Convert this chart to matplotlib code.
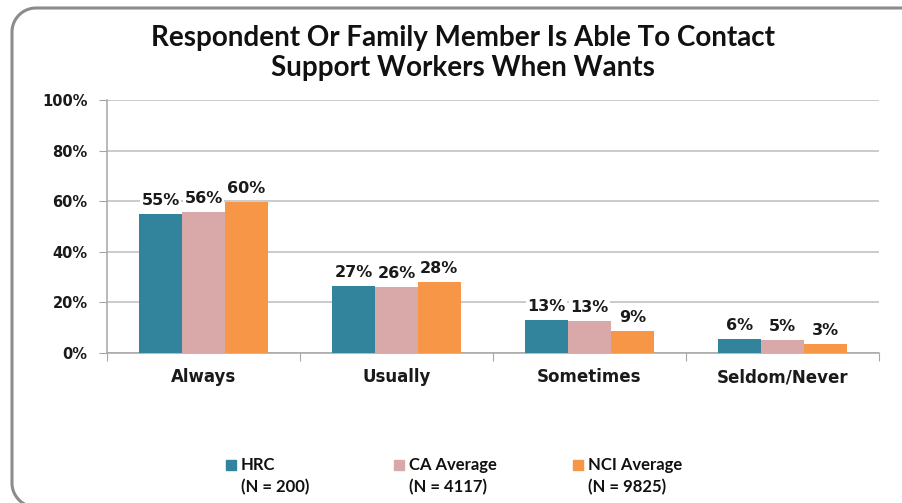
import matplotlib
matplotlib.use("Agg")
import matplotlib.pyplot as plt
import numpy as np
from matplotlib.patches import Rectangle
from matplotlib.lines import Line2D
from matplotlib.transforms import IdentityTransform

# data
categories = ["Always", "Usually", "Sometimes", "Seldom/Never"]
hrc = [55.1, 26.4, 13.0, 5.4]
ca_avg = [55.9, 26.2, 12.8, 5.0]
nci_avg = [59.7, 28.0, 8.6, 3.5]
hrc_lbl = ["55%", "27%", "13%", "6%"]
ca_lbl = ["56%", "26%", "13%", "5%"]
nci_lbl = ["60%", "28%", "9%", "3%"]
series_names = ["HRC\n(N = 200)", "CA Average\n(N = 4117)", "NCI Average\n(N = 9825)"]
colors = ["#31849B", "#D9A9A9", "#F79646"]
yticks = [0, 20, 40, 60, 80, 100]
title = "Respondent Or Family Member Is Able To Contact\nSupport Workers When Wants"

W, H = 902, 503
fig = plt.figure(figsize=(W / 100, H / 100), dpi=100)

# rounded frame (pixel coords); only left side, top and bottom-left corner show
r = 24
left, top, bottom = 12, H - 8, -4
t = np.linspace(0, np.pi / 2, 30)
fx = np.concatenate([[W + 20], left + r - r * np.sin(t), left + r - r * np.cos(t), [W + 20]])
fy = np.concatenate([[top], top - r + r * np.cos(t), bottom + r - r * np.sin(t), [bottom]])
fig.lines.append(Line2D(fx, fy, transform=IdentityTransform(), color="#8C8C8C",
                        linewidth=2.2, clip_on=False))

ax = fig.add_axes([107 / W, (H - 353) / H, 772 / W, 253 / H])
x = np.arange(len(categories))
bw = 0.222
all_vals = [hrc, ca_avg, nci_avg]
all_lbls = [hrc_lbl, ca_lbl, nci_lbl]
for i, (vals, lbls) in enumerate(zip(all_vals, all_lbls)):
    xs = x + (i - 1) * bw
    ax.bar(xs, vals, bw, color=colors[i], zorder=3)
    for xx, v, s in zip(xs, vals, lbls):
        ax.text(xx, v + 2.4, s, ha="center", va="bottom", fontsize=11.5,
                fontweight="bold", color="#1a1a1a", zorder=4,
                bbox=dict(facecolor="white", edgecolor="none", pad=1.0))

ax.set_xlim(-0.5, 3.5)
ax.set_ylim(0, 100)
ax.set_yticks(yticks)
ax.set_yticklabels([f"{v}%" for v in yticks], fontsize=10.5, fontweight="bold", color="#1a1a1a")
ax.yaxis.grid(True, color="#BDBDBD", linewidth=1.1, zorder=0)
ax.set_axisbelow(True)

ax.set_xticks(np.arange(-0.5, 4.0, 1.0))
ax.set_xticklabels([])
ax.set_xticks(x, minor=True)
ax.set_xticklabels(categories, minor=True, fontsize=12, fontweight="bold", color="#1a1a1a")
ax.tick_params(axis="x", which="major", length=6, color="#A6A6A6", direction="out")
ax.tick_params(axis="x", which="minor", length=0, pad=11)
ax.tick_params(axis="y", length=6, color="#A6A6A6", pad=8)
for s in ["top", "right"]:
    ax.spines[s].set_visible(False)
for s in ["left", "bottom"]:
    ax.spines[s].set_color("#A6A6A6")
    ax.spines[s].set_linewidth(1.1)

fig.text(463 / W, 1 - 53 / H, title, ha="center", va="center", fontsize=20,
         fontweight="bold", family="Lato", linespacing=1.22, color="#111111")

# legend drawn by hand so the swatch sits on the first line
leg_x = [226, 394, 573]
for i, name in enumerate(series_names):
    fig.patches.append(Rectangle((leg_x[i] / W, 1 - 470 / H), 10 / W, 10 / H,
                                 transform=fig.transFigure, color=colors[i]))
    fig.text((leg_x[i] + 15) / W, 1 - 476 / H, name, ha="left", va="center",
             fontsize=12, fontweight="bold", family="Lato", linespacing=1.45,
             color="#111111")

fig.savefig("out.png", dpi=100)
